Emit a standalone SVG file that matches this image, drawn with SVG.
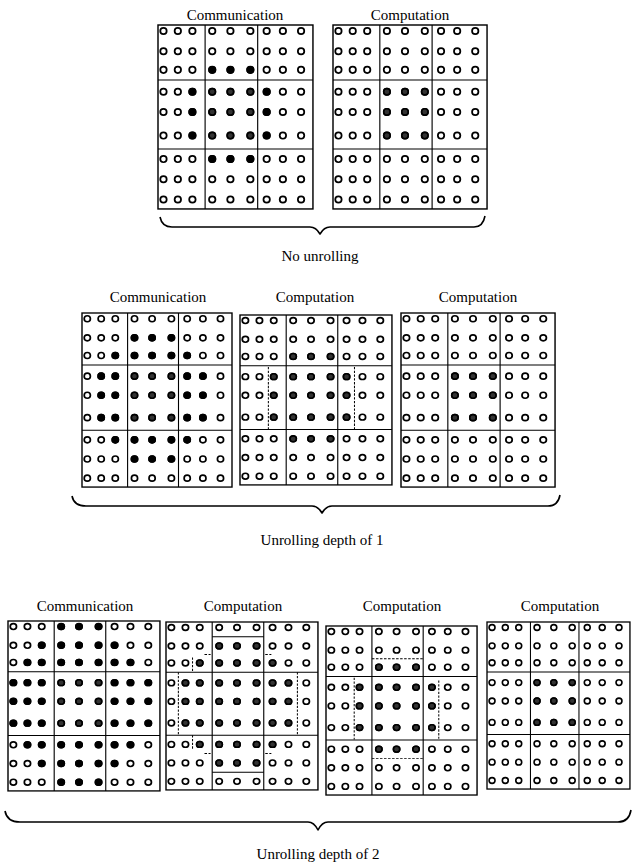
<svg xmlns="http://www.w3.org/2000/svg" xmlns:xlink="http://www.w3.org/1999/xlink" width="634" height="863" viewBox="0 0 634 863">
<style>
.lbl{font-family:"Liberation Serif","Times New Roman",serif;font-size:15px;text-anchor:middle;fill:#000}
.brace{fill:none;stroke:#000;stroke-width:1.6;stroke-linejoin:round}
.dash{fill:none;stroke:#000;stroke-width:1;stroke-dasharray:2.5 1.5}
.thin{fill:none;stroke:#000;stroke-width:1.1}
</style>
<defs>
<g id="row" fill="#fff" stroke="#000" stroke-width="1.7">
<circle cx="5.3" r="3.1"/><circle cx="19.2" r="3.1"/><circle cx="33.3" r="3.1"/><circle cx="52.5" r="3.1"/><circle cx="70.1" r="3.1"/><circle cx="89.4" r="3.1"/><circle cx="105.2" r="3.1"/><circle cx="120.9" r="3.1"/><circle cx="138.5" r="3.1"/>
</g>
<g id="base">
<rect x="0" y="0" width="150" height="180" fill="#fff" stroke="#000" stroke-width="1.4"/>
<path d="M45.6,0V180M96.5,0V180M0,53.8H150M0,121.3H150" fill="none" stroke="#000" stroke-width="1.1"/>
<use xlink:href="#row" y="5.9"/><use xlink:href="#row" y="25.7"/><use xlink:href="#row" y="43.9"/>
<use xlink:href="#row" y="65.3"/><use xlink:href="#row" y="85.1"/><use xlink:href="#row" y="108.2"/>
<use xlink:href="#row" y="131.2"/><use xlink:href="#row" y="151"/><use xlink:href="#row" y="170.8"/>
</g>
<g id="midS" fill="#333" stroke="#000" stroke-width="1.6">
<circle cx="52.5" cy="65.3" r="3.1"/><circle cx="70.1" cy="65.3" r="3.1"/><circle cx="89.4" cy="65.3" r="3.1"/>
<circle cx="52.5" cy="85.1" r="3.1"/><circle cx="70.1" cy="85.1" r="3.1"/><circle cx="89.4" cy="85.1" r="3.1"/>
<circle cx="52.5" cy="108.2" r="3.1"/><circle cx="70.1" cy="108.2" r="3.1"/><circle cx="89.4" cy="108.2" r="3.1"/>
</g>
<g id="ring1" stroke-width="1.6">
<circle cx="52.5" cy="43.9" r="3.1"/><circle cx="70.1" cy="43.9" r="3.1"/><circle cx="89.4" cy="43.9" r="3.1"/>
<circle cx="33.3" cy="65.3" r="3.1"/><circle cx="33.3" cy="85.1" r="3.1"/><circle cx="33.3" cy="108.2" r="3.1"/>
<circle cx="105.2" cy="65.3" r="3.1"/><circle cx="105.2" cy="85.1" r="3.1"/><circle cx="105.2" cy="108.2" r="3.1"/>
<circle cx="52.5" cy="131.2" r="3.1"/><circle cx="70.1" cy="131.2" r="3.1"/><circle cx="89.4" cy="131.2" r="3.1"/>
</g>
<g id="ring2" stroke-width="1.6">
<circle cx="52.5" cy="25.7" r="3.1"/><circle cx="70.1" cy="25.7" r="3.1"/><circle cx="89.4" cy="25.7" r="3.1"/>
<circle cx="33.3" cy="43.9" r="3.1"/><circle cx="105.2" cy="43.9" r="3.1"/>
<circle cx="19.2" cy="65.3" r="3.1"/><circle cx="19.2" cy="85.1" r="3.1"/><circle cx="19.2" cy="108.2" r="3.1"/>
<circle cx="120.9" cy="65.3" r="3.1"/><circle cx="120.9" cy="85.1" r="3.1"/><circle cx="120.9" cy="108.2" r="3.1"/>
<circle cx="33.3" cy="131.2" r="3.1"/><circle cx="105.2" cy="131.2" r="3.1"/>
<circle cx="52.5" cy="151" r="3.1"/><circle cx="70.1" cy="151" r="3.1"/><circle cx="89.4" cy="151" r="3.1"/>
</g>
<g id="ring3" stroke-width="1.6">
<circle cx="52.5" cy="5.9" r="3.1"/><circle cx="70.1" cy="5.9" r="3.1"/><circle cx="89.4" cy="5.9" r="3.1"/>
<circle cx="33.3" cy="25.7" r="3.1"/><circle cx="105.2" cy="25.7" r="3.1"/>
<circle cx="19.2" cy="43.9" r="3.1"/><circle cx="120.9" cy="43.9" r="3.1"/>
<circle cx="5.3" cy="65.3" r="3.1"/><circle cx="5.3" cy="85.1" r="3.1"/><circle cx="5.3" cy="108.2" r="3.1"/>
<circle cx="138.5" cy="65.3" r="3.1"/><circle cx="138.5" cy="85.1" r="3.1"/><circle cx="138.5" cy="108.2" r="3.1"/>
<circle cx="19.2" cy="131.2" r="3.1"/><circle cx="120.9" cy="131.2" r="3.1"/>
<circle cx="33.3" cy="151" r="3.1"/><circle cx="105.2" cy="151" r="3.1"/>
<circle cx="52.5" cy="170.8" r="3.1"/><circle cx="70.1" cy="170.8" r="3.1"/><circle cx="89.4" cy="170.8" r="3.1"/>
</g>
</defs>
<rect width="634" height="863" fill="#fff"/>

<!-- Row 1: No unrolling -->
<text class="lbl" x="235" y="20">Communication</text>
<text class="lbl" x="410" y="20">Computation</text>
<g id="nu-comm" transform="translate(158,25) scale(1.033,1.022)">
<use xlink:href="#base"/>
<use xlink:href="#ring1" fill="#000" stroke="#000"/>
<use xlink:href="#midS"/>
</g>
<g id="nu-comp" transform="translate(333,25) scale(1.027,1.022)">
<use xlink:href="#base"/>
<use xlink:href="#midS"/>
</g>

<!-- Row 2: Unrolling depth of 1 -->
<text class="lbl" x="158" y="302">Communication</text>
<text class="lbl" x="315" y="302">Computation</text>
<text class="lbl" x="478" y="302">Computation</text>
<g id="d1-comm" transform="translate(82,313) scale(1.0,0.967)">
<use xlink:href="#base"/>
<use xlink:href="#ring1" fill="#000" stroke="#000"/>
<use xlink:href="#ring2" fill="#000" stroke="#000"/>
<use xlink:href="#midS"/>
</g>
<g id="d1-comp1" transform="translate(240,315) scale(1.013,0.944)">
<use xlink:href="#base"/>
<use xlink:href="#ring1" fill="#333" stroke="#000"/>
<use xlink:href="#midS"/>
<path class="dash" d="M28,55V121M113,55V121"/>
</g>
<g id="d1-comp2" transform="translate(401,313) scale(1.027,0.967)">
<use xlink:href="#base"/>
<use xlink:href="#midS"/>
</g>

<!-- Row 3: Unrolling depth of 2 -->
<text class="lbl" x="85" y="611">Communication</text>
<text class="lbl" x="243" y="611">Computation</text>
<text class="lbl" x="402" y="611">Computation</text>
<text class="lbl" x="560" y="611">Computation</text>
<g id="d2-comm" transform="translate(8,621) scale(1.013,0.944)">
<use xlink:href="#base"/>
<use xlink:href="#ring1" fill="#000" stroke="#000"/>
<use xlink:href="#ring2" fill="#000" stroke="#000"/>
<use xlink:href="#ring3" fill="#000" stroke="#000"/>
<use xlink:href="#midS"/>
</g>
<g id="d2-comp1" transform="translate(166,622) scale(1.013,0.933)">
<use xlink:href="#base"/>
<use xlink:href="#ring1" fill="#333" stroke="#000"/>
<use xlink:href="#ring2" fill="#333" stroke="#000"/>
<use xlink:href="#midS"/>
<path class="thin" d="M45.6,15.8H96.5M45.6,161H96.5"/>
<path class="dash" d="M12.2,53.8V121.3M129.7,53.8V121.3M26.2,38V53.8M38,34.8H44M98,34.8H104M26.2,121.3V137M38,141H44M98,141H104"/>
</g>
<g id="d2-comp2" transform="translate(326,626) scale(1.007,0.939)">
<use xlink:href="#base"/>
<use xlink:href="#ring1" fill="#333" stroke="#000"/>
<use xlink:href="#midS"/>
<path class="dash" d="M45.6,34.8H96.5M45.6,141H96.5M28,55V121"/>
<path class="dash" d="M112,58V120" stroke-dasharray="1 6"/>
</g>
<g id="d2-comp3" transform="translate(487,622) scale(0.953,0.928)">
<use xlink:href="#base"/>
<use xlink:href="#midS"/>
</g>

<!-- Braces -->
<g id="connectors">
<path class="brace" d="M160,217 Q162,227 172,227 L310,227 Q316,227 320,234 Q324,227 330,227 L474,227 Q483,227 485,216"/>
<path class="brace" d="M72,496 Q74,506 86,506 L312,506 Q318,506 322,513 Q326,506 332,506 L548,506 Q558,506 560,495"/>
<path class="brace" d="M5,811 Q7,822 20,822 L308,822 Q314,822 318,830 Q322,822 328,822 L618,822 Q629,822 631,810"/>
</g>
<text class="lbl" x="320" y="261">No unrolling</text>
<text class="lbl" x="322" y="545">Unrolling depth of 1</text>
<text class="lbl" x="318" y="859">Unrolling depth of 2</text>
</svg>
